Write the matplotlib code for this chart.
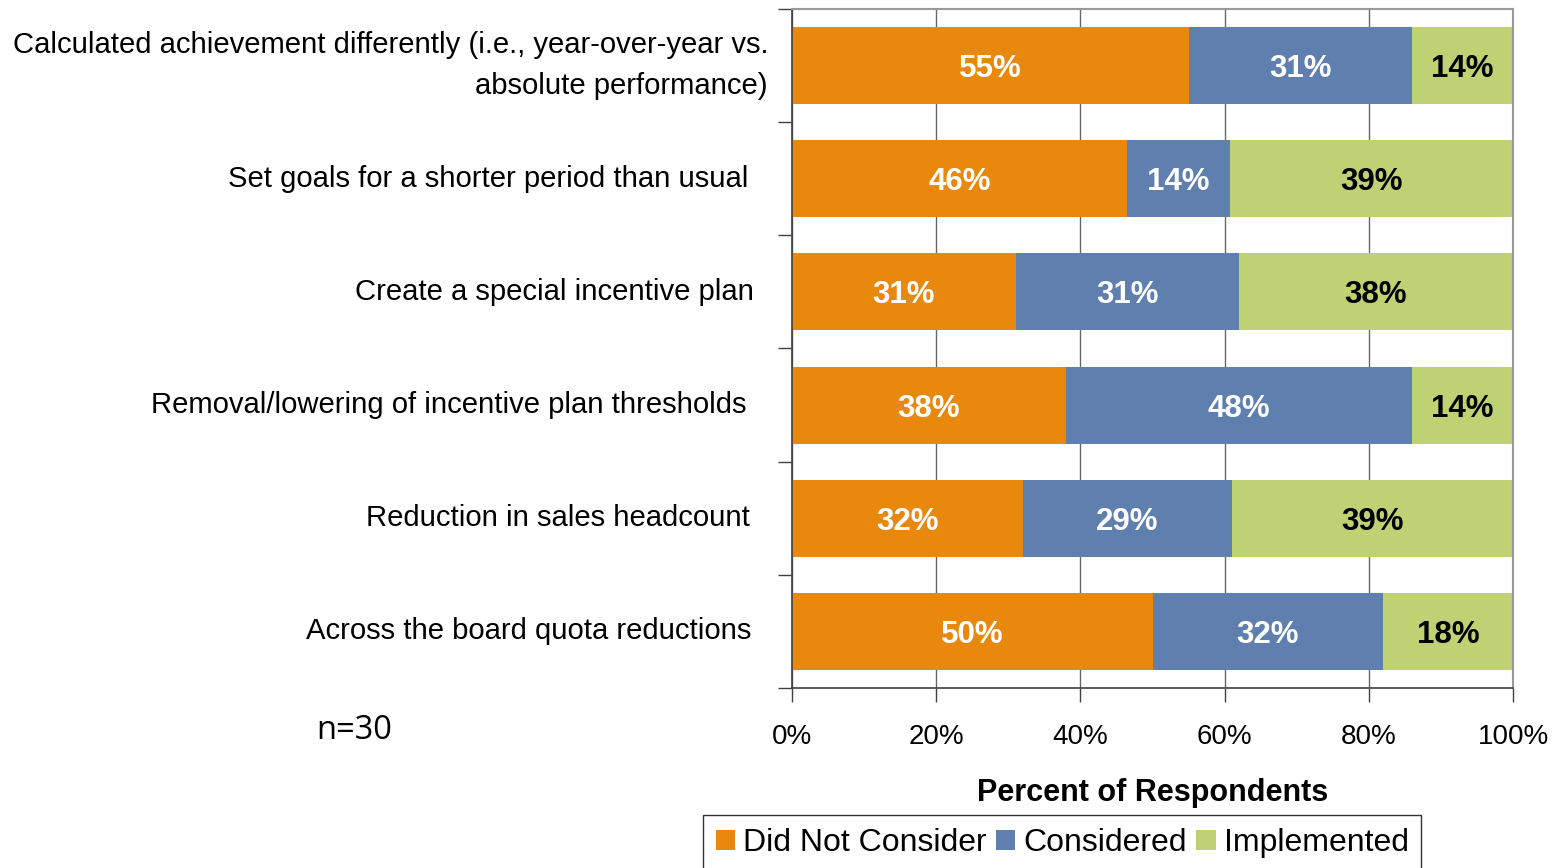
import matplotlib.pyplot as plt
import numpy as np

plt.rcParams['font.family'] = ['Liberation Sans', 'DejaVu Sans']

# %% survey responses, percent of respondents per action
categories = [
    "Calculated achievement differently (i.e., year-over-year vs.\nabsolute performance)",
    "Set goals for a shorter period than usual",
    "Create a special incentive plan",
    "Removal/lowering of incentive plan thresholds",
    "Reduction in sales headcount",
    "Across the board quota reductions",
]
did_not_consider = [55, 46.4, 31, 38, 32, 50]
considered = [31, 14.3, 31, 48, 29, 32]
implemented = [14, 39.3, 38, 14, 39, 18]

series_names = ["Did Not Consider", "Considered", "Implemented"]
x_ticks = [0, 20, 40, 60, 80, 100]

# %% styling
colors = ['#E8890E', '#5F7FAE', '#BED173']
text_colors = ['white', 'white', 'black']
label_gap_px = [24, 44, 38, 46, 42, 41]  # space between left spine and each category label

fig = plt.figure(figsize=(15.56, 8.68), dpi=100)
ax = fig.add_axes([0.509, 0.2074, 0.4634, 0.7823])

y = np.arange(len(categories))
left = np.zeros(len(categories))
for name, vals, c, tc in zip(series_names, [did_not_consider, considered, implemented],
                             colors, text_colors):
    vals = np.asarray(vals, dtype=float)
    ax.barh(y, vals, left=left, height=0.68, color=c, label=name, zorder=2)
    for yi, l, v in zip(y, left, vals):
        ax.text(l + v / 2, yi, f"{v:.0f}%", ha='center', va='center_baseline',
                color=tc, fontsize=22.5, fontweight='bold', zorder=3)
    left += vals

ax.set_xlim(0, 100)
ax.set_ylim(len(categories) - 0.5, -0.5)
ax.set_xticks(x_ticks)
ax.set_xticklabels([f"{t}%" for t in x_ticks], fontsize=20)
ax.tick_params(axis='x', direction='out', length=10, width=1, color='#404040', pad=16)

# category labels sit right-aligned left of the spine
ax.set_yticks([])
ax.set_yticks(np.arange(-0.5, len(categories)), minor=True)
ax.tick_params(axis='y', which='minor', direction='out', length=10, width=1, color='#404040')
for yi, cat, gap in zip(y, categories, label_gap_px):
    ax.annotate(cat, xy=(0, yi), xycoords=('axes fraction', 'data'),
                xytext=(-gap, 0), textcoords='offset pixels',
                ha='right', va='center', fontsize=21.1, linespacing=1.55,
                multialignment='right')

ax.xaxis.grid(True, color='#666666', lw=1)
ax.set_axisbelow(True)
for side in ['left', 'bottom']:
    ax.spines[side].set_color('#404040')
    ax.spines[side].set_linewidth(1.2)
for side in ['top', 'right']:
    ax.spines[side].set_color('#999999')
    ax.spines[side].set_linewidth(1.5)

ax.set_xlabel("Percent of Respondents", fontsize=22, fontweight='bold', labelpad=20)

fig.text(0.2035, 0.158, "n=30", fontsize=23.5, family=['Open Sans', 'DejaVu Sans'],
         ha='left', va='center')

leg = ax.legend(loc='upper left', bbox_to_anchor=(0.4518, 0.0605),
                bbox_transform=fig.transFigure, ncol=3, fontsize=23,
                handlelength=0.6, handleheight=0.6, handletextpad=0.25,
                columnspacing=0.3, borderpad=0.4, borderaxespad=0,
                fancybox=False, frameon=True)
leg.get_frame().set_edgecolor('black')
leg.get_frame().set_linewidth(1)

fig.savefig('out.png', dpi=100)
